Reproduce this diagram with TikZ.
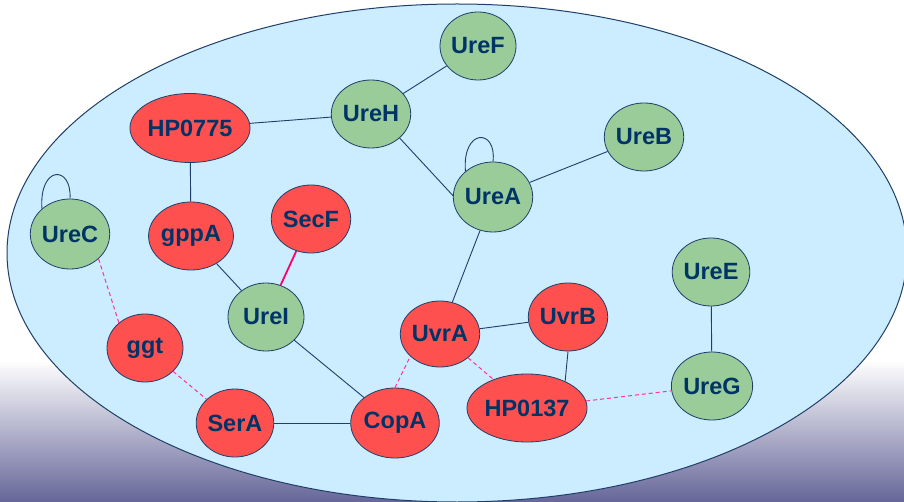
\documentclass[tikz,border=0pt]{standalone}
\usepackage{fontspec}
\setmainfont{Liberation Sans}
\usetikzlibrary{shapes.geometric}
\definecolor{bgpurple}{HTML}{666699}
\definecolor{cellblue}{HTML}{CCECFF}
\definecolor{navyline}{HTML}{1F3F6A}
\definecolor{textnavy}{HTML}{003366}
\definecolor{genered}{HTML}{FF5050}
\definecolor{genegreen}{HTML}{99CC99}
\definecolor{dashpink}{HTML}{FF3399}
\definecolor{secpink}{HTML}{FF0066}
\tikzset{
  gene/.style={ellipse, draw=navyline, line width=0.8pt, inner sep=0pt,
    text=textnavy, font=\fontsize{23.5}{28}\selectfont\bfseries,
    minimum width=76pt, minimum height=68pt},
  rn/.style={gene, fill=genered},
  gn/.style={gene, fill=genegreen},
  link/.style={draw=navyline, line width=0.9pt},
  weak/.style={draw=dashpink, line width=1pt, dash pattern=on 4pt off 3pt},
  strong/.style={draw=secpink, line width=1.8pt}
}
\begin{document}
\begin{tikzpicture}[x=1pt,y=-1pt]
\useasboundingbox (0,0) rectangle (904,502);
\fill[white] (0,0) rectangle (904,360);
\shade[top color=white,bottom color=bgpurple] (0,360) rectangle (904,502);
\path[fill=cellblue, draw=navyline, line width=1pt] (457,253) ellipse [x radius=450pt, y radius=249pt];

\node[gn] (UreF) at (478,46) {UreF};
\node[gn] (UreH) at (371,114) {UreH};
\node[rn, minimum width=106pt, minimum height=69pt] (HP0775) at (190,128) {HP0775};
\node[gn] (UreB) at (644,137) {UreB};
\node[gn, minimum height=70pt] (UreA) at (493,197) {UreA};
\node[gn, minimum height=70pt] (UreC) at (70,234) {UreC};
\node[rn] (gppA) at (191,236) {gppA};
\node[rn] (SecF) at (311,219) {SecF};
\node[gn] (UreI) at (266,317) {UreI};
\node[rn, minimum height=66pt] (UvrA) at (440,334) {UvrA};
\node[rn] (UvrB) at (568,317) {UvrB};
\node[rn, minimum width=100pt] (HP0137) at (527,408) {HP0137};
\node[rn, minimum height=70pt] (CopA) at (395,423) {CopA};
\node[rn] (SerA) at (235,423) {SerA};
\node[rn] (ggt) at (145,348) {ggt};
\node[gn] (UreE) at (711,272) {UreE};
\node[gn] (UreG) at (712,386) {UreG};

\draw[link] (UreF) -- (UreH);
\draw[link] (HP0775) -- (UreH);
\draw[link] (UreH.-40) -- (UreA.178);
\draw[link] (UreA) -- (UreB);
\draw[link] (UreA) -- (UvrA);
\draw[link] (HP0775) -- (gppA);
\draw[link] (gppA) -- (UreI);
\draw[strong] (SecF) -- (UreI);
\draw[link] (UreI) -- (CopA);
\draw[link] (SerA) -- (CopA);
\draw[link] (UvrA) -- (UvrB);
\draw[link] (UvrB.south) -- (HP0137.35);
\draw[link] (UreE) -- (UreG);
\draw[link] (UreA.137) .. controls (462,128) and (497,128) .. (UreA.90);
\draw[link] (UreC.138) .. controls (39,165) and (72,165) .. (UreC.90);

\draw[weak] (UreC.-41) -- (ggt.136);
\draw[weak] (ggt) -- (SerA);
\draw[weak] (CopA.north) -- (UvrA.217);
\draw[weak] (UvrA) -- (HP0137);
\draw[weak] (HP0137) -- (UreG);
\end{tikzpicture}
\end{document}
